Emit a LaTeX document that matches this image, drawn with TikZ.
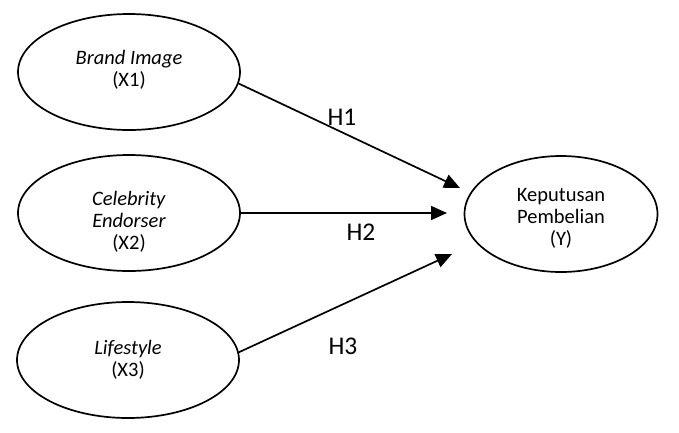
\documentclass[tikz,border=0pt]{standalone}
\usepackage{fontspec}
\setmainfont{Carlito}
\usetikzlibrary{shapes.geometric,arrows.meta}
\tikzset{
  construct/.style={draw, line width=1.7pt, ellipse, inner sep=0pt, minimum width=222pt, minimum height=116pt},
  lbl/.style={align=center, font=\fontsize{20.5}{22}\selectfont, inner sep=0pt},
  hyp/.style={font=\fontsize{25.5}{28}\selectfont, inner sep=0pt},
  path/.style={line width=1.7pt, -{Triangle[length=16pt,width=14pt]}}
}
\begin{document}
\begin{tikzpicture}[x=1pt,y=-1pt]
\useasboundingbox (0,0) rectangle (679,432);
\node[construct] (x1) at (129,72) {};
\node[construct] (x2) at (129,213) {};
\node[construct] (x3) at (128,360) {};
\node[construct, minimum width=193pt, minimum height=116pt] (y) at (561,214) {};
\node[lbl] (tx1) at (129,70) {\textit{Brand Image}\\(X1)};
\node[lbl] (tx2) at (129,222) {\textit{Celebrity}\\\textit{Endorser}\\(X2)};
\node[lbl] (tx3) at (128,360) {\textit{Lifestyle}\\(X3)};
\node[lbl] (ty) at (561,218) {Keputusan\\Pembelian\\(Y)};
\coordinate (t1) at (460,188);
\coordinate (t2) at (447,213);
\coordinate (t3) at (452,254);
\draw[path] (x1.-6) -- (t1);
\draw[path] (x2.east) -- (t2);
\draw[path] (x3.4) -- (t3);
\node[hyp] (h1) at (342,117) {H1};
\node[hyp] (h2) at (361,232) {H2};
\node[hyp] (h3) at (343,346) {H3};
\end{tikzpicture}
\end{document}
